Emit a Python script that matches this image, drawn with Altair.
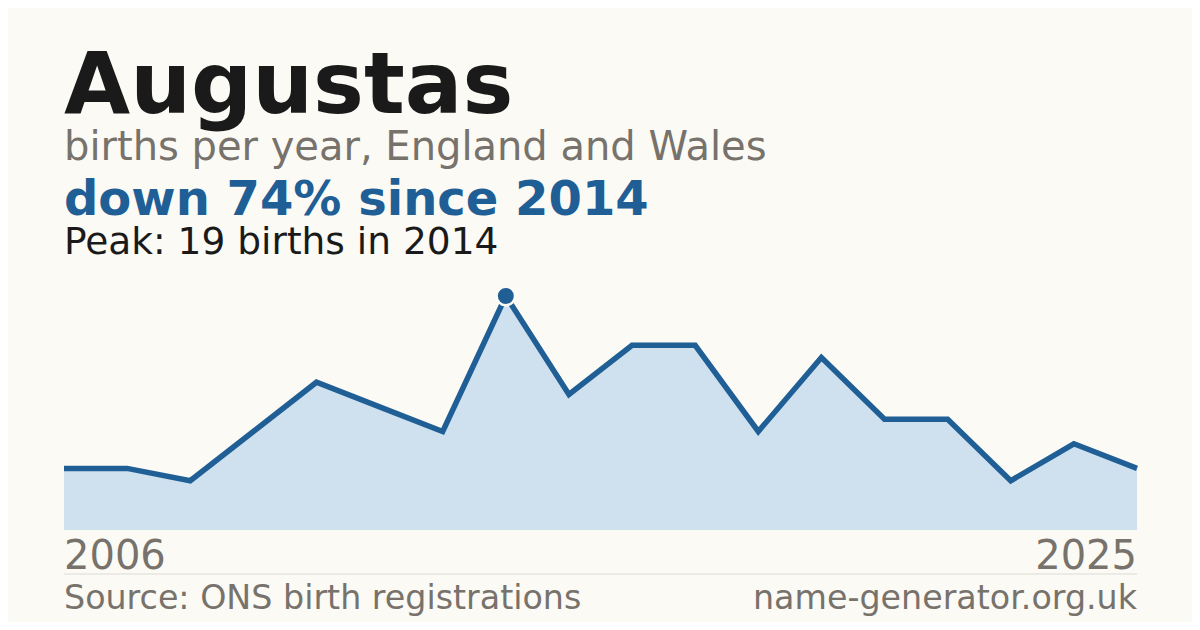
import altair as alt
import pandas as pd

# ---- data ----
name = "Augustas"
subtitle = "births per year, England and Wales"
births = [5, 5, 4, 8, 12, 10, 8, 19, 11, 15, 15, 8, 14, 9, 9, 4, 7, 5]
peak_year = 2014
first_year_label = "2006"
last_year_label = "2025"
source_label = "Source: ONS birth registrations"
site_label = "name-generator.org.uk"

BG = "#fbfaf5"
BLUE = "#1f5f96"
FILL = "#cfe0ef"
DARK = "#1a1a1a"
GREY = "#77726b"
FONT = "DejaVu Sans"

W, H = 1184, 614
X0, X1 = 56, 1129
Y0, YTOP = 522, 288

df = pd.DataFrame({"i": list(range(len(births))), "births": births})
peak = max(births)
peak_i = births.index(peak)
pct = round((peak - births[-1]) / peak * 100)

xs = alt.Scale(domain=[0, len(births) - 1], range=[X0, X1], nice=False, zero=False)
ys = alt.Scale(domain=[0, peak], range=[Y0, YTOP], nice=False)

base = alt.Chart(df)
area = base.mark_area(color=FILL, opacity=1).encode(
    x=alt.X("i:Q", scale=xs, axis=None),
    y=alt.Y("births:Q", scale=ys, axis=None),
)
line = base.mark_line(color=BLUE, strokeWidth=5.5, strokeJoin="miter", strokeCap="butt").encode(
    x=alt.X("i:Q", scale=xs, axis=None),
    y=alt.Y("births:Q", scale=ys, axis=None),
)
dot = alt.Chart(df[df["i"] == peak_i]).mark_point(
    shape="circle", filled=True, fill=BLUE, stroke=BG, strokeWidth=2.5, size=340, opacity=1
).encode(
    x=alt.X("i:Q", scale=xs, axis=None),
    y=alt.Y("births:Q", scale=ys, axis=None),
)


def txt(s, x, y, size, color, weight="normal", align="left"):
    return alt.Chart(pd.DataFrame({"t": [s]})).mark_text(
        font=FONT, fontSize=size, fontWeight=weight, color=color,
        align=align, baseline="alphabetic",
    ).encode(text="t:N", x=alt.value(x), y=alt.value(y))


texts = [
    txt(name, 56, 105, 85.5, DARK, "bold"),
    txt(subtitle, 56, 152, 40, GREY),
    txt(f"down {pct}% since {peak_year}", 56, 207, 48, BLUE, "bold"),
    txt(f"Peak: {peak} births in {peak_year}", 56, 246, 37.5, DARK),
    txt(first_year_label, 56, 561, 40, GREY),
    txt(last_year_label, 1129, 561, 40, GREY, align="right"),
    txt(source_label, 56, 601, 33.3, GREY),
    txt(site_label, 1129, 601, 33.3, GREY, align="right"),
]

sep = alt.Chart(pd.DataFrame({"a": [0]})).mark_rule(color="#dddad3", strokeWidth=1).encode(
    x=alt.value(X0), x2=alt.value(X1), y=alt.value(566)
)

chart = alt.layer(area, line, dot, sep, *texts).properties(
    width=W, height=H, autosize="none", padding=0, background=BG
).configure_view(stroke=None)

chart.save("out.html", embed_options={"renderer": "svg", "actions": False})
